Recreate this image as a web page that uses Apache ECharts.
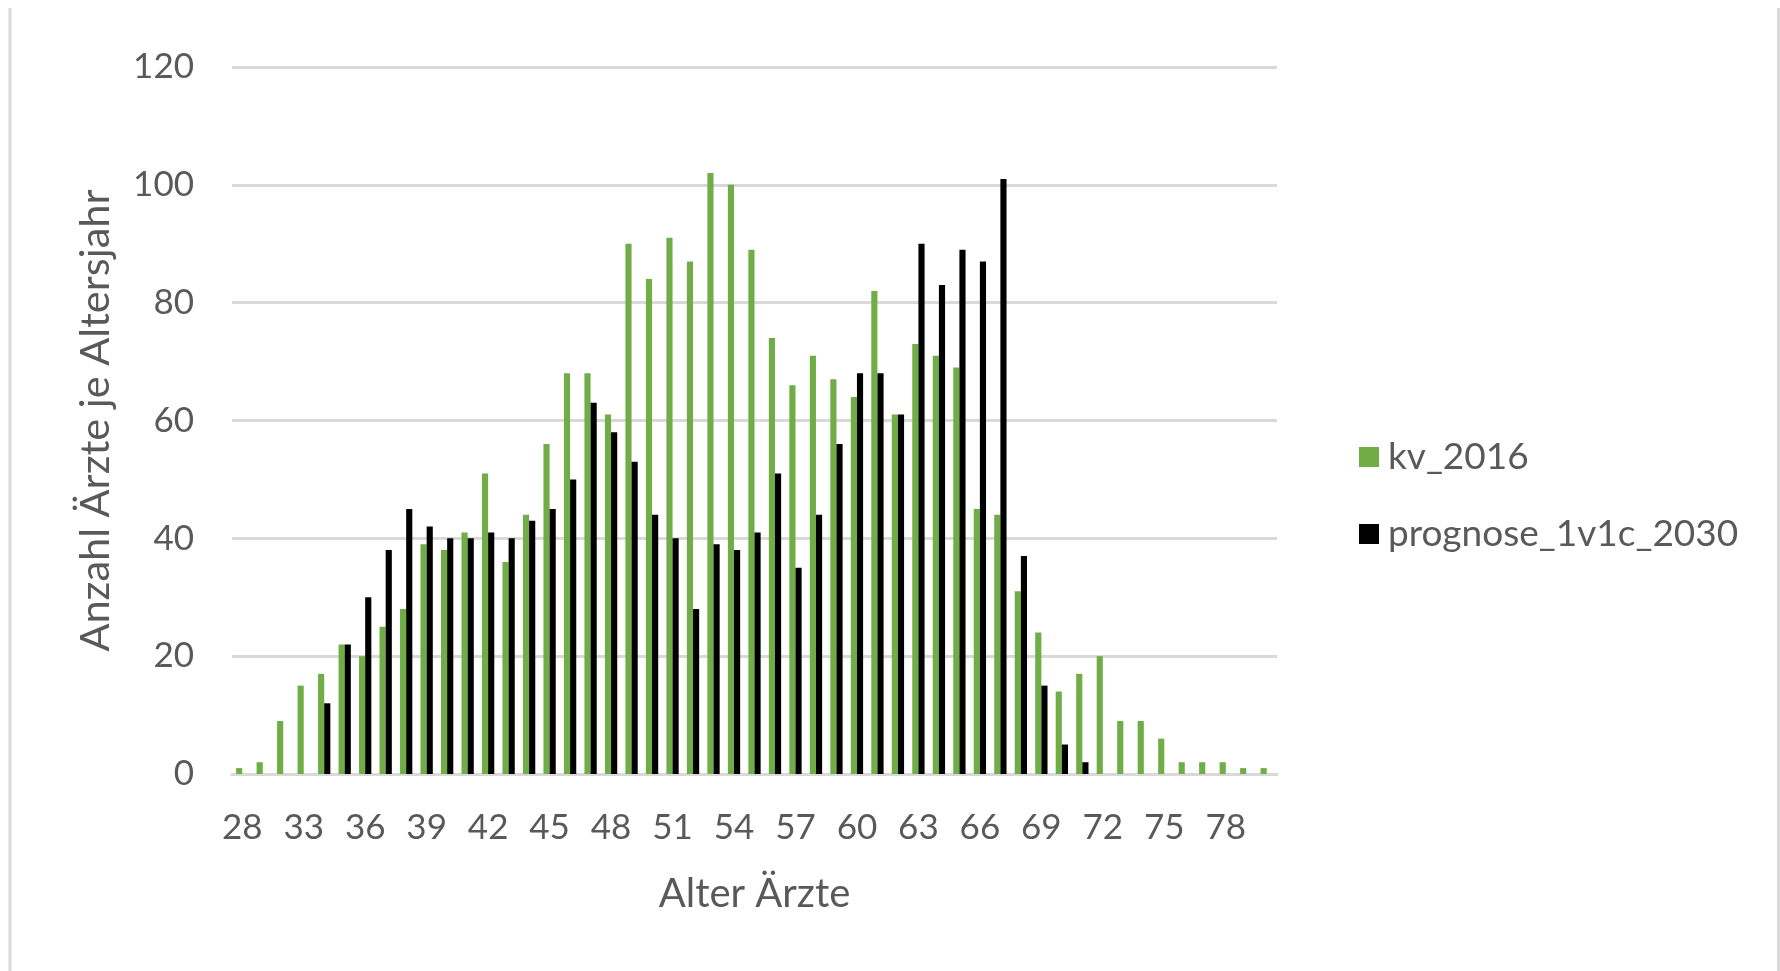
<!DOCTYPE html>
<html>
<head>
<meta charset="utf-8">
<script src="https://cdn.jsdelivr.net/npm/echarts@6/dist/echarts.min.js"></script>
<style>
  html, body { margin: 0; padding: 0; background: #ffffff; }
  #chart { width: 1780px; height: 971px; }
</style>
</head>
<body>
<div id="chart"></div>
<script>
const categories = ['28','31','32','33','34','35','36','37','38','39','40','41','42','43','44','45','46','47','48','49','50','51','52','53','54','55','56','57','58','59','60','61','62','63','64','65','66','67','68','69','70','71','72','73','74','75','76','77','78','79','80'];
const kv2016 = [1,2,9,15,17,22,20,25,28,39,38,41,51,36,44,56,68,68,61,90,84,91,87,102,100,89,74,66,71,67,64,82,61,73,71,69,45,44,31,24,14,17,20,9,9,6,2,2,2,1,1];
const prognose2030 = [0,0,0,0,12,22,30,38,45,42,40,40,41,40,43,45,50,63,58,53,44,40,28,39,38,41,51,35,44,56,68,68,61,90,83,89,87,101,37,15,5,2,0,0,0,0,0,0,0,0,0];
const yTicks = [0, 20, 40, 60, 80, 100, 120];
const seriesNames = ['kv_2016', 'prognose_1v1c_2030'];
const xTitle = 'Alter Ärzte';
const yTitle = 'Anzahl Ärzte je Altersjahr';

const FONT = 'Lato';
const TXT = '#595959';
const GRID = '#d9d9d9';

const chart = echarts.init(document.getElementById('chart'), null, { renderer: 'canvas' });
chart.setOption({
  backgroundColor: '#ffffff',
  animation: false,
  textStyle: { fontFamily: FONT },
  graphic: [
    { type: 'line', shape: { x1: 10, y1: 8, x2: 10, y2: 971 }, style: { stroke: GRID, lineWidth: 3 } },
    { type: 'line', shape: { x1: 1778.5, y1: 8, x2: 1778.5, y2: 971 }, style: { stroke: GRID, lineWidth: 3 } }
  ],
  grid: { left: 232, right: 503, top: 67, bottom: 197, containLabel: false },
  legend: {
    orient: 'vertical',
    left: 1354,
    top: 432,
    itemWidth: 20,
    itemHeight: 20,
    itemGap: 37,
    icon: 'rect',
    data: seriesNames,
    textStyle: { fontFamily: FONT, fontSize: 37, color: TXT, lineHeight: 40, padding: [0, 0, 0, 4] }
  },
  xAxis: {
    type: 'category',
    data: categories,
    name: xTitle,
    nameLocation: 'middle',
    nameGap: 100,
    nameTextStyle: { fontFamily: FONT, fontSize: 40, color: TXT },
    axisLine: { show: true, lineStyle: { color: GRID, width: 3 } },
    axisTick: { show: false },
    axisLabel: { interval: 2, margin: 36, fontFamily: FONT, fontSize: 35, color: TXT }
  },
  yAxis: {
    type: 'value',
    min: yTicks[0],
    max: yTicks[yTicks.length - 1],
    interval: yTicks[1] - yTicks[0],
    name: yTitle,
    nameLocation: 'middle',
    nameGap: 115,
    nameTextStyle: { fontFamily: FONT, fontSize: 41.5, color: TXT },
    axisLine: { show: false },
    axisTick: { show: false },
    splitLine: { show: true, lineStyle: { color: GRID, width: 3 } },
    axisLabel: { margin: 38, fontFamily: FONT, fontSize: 35, color: TXT }
  },
  series: [
    {
      name: seriesNames[0],
      type: 'bar',
      data: kv2016,
      barWidth: '30%',
      barGap: '0%',
      itemStyle: { color: '#70ad47' }
    },
    {
      name: seriesNames[1],
      type: 'bar',
      data: prognose2030,
      barWidth: '30%',
      barGap: '0%',
      itemStyle: { color: '#000000' }
    }
  ]
});
</script>
</body>
</html>
